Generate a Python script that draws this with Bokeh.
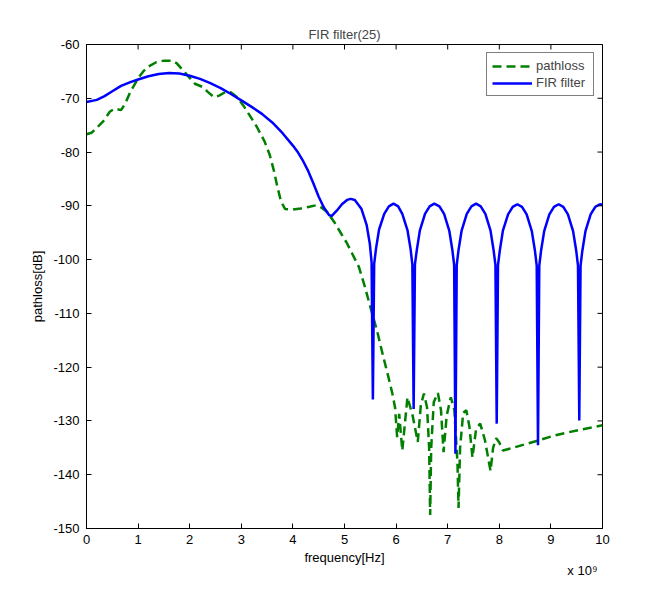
from bokeh.plotting import figure
from bokeh.models import FixedTicker, Legend, LegendItem, Range1d, ColumnDataSource, Title
from bokeh.embed import file_html
from bokeh.resources import INLINE

# ---------------- data (frequency in units of 1e9 Hz, values in dB) ----------------
path_freq = [0.0, 0.1, 0.2, 0.35, 0.45, 0.55, 0.67, 0.75, 0.85, 1.0, 1.1, 1.2, 1.35, 1.5, 1.65,
             1.75, 1.85, 2.0, 2.1, 2.25, 2.35, 2.47, 2.57, 2.7, 2.8, 2.92, 3.05, 3.15, 3.3, 3.45,
             3.55, 3.63, 3.7, 3.77, 3.85, 4.0, 4.15, 4.3, 4.45, 4.55, 4.67, 4.8, 4.95, 5.05, 5.15,
             5.28, 5.4, 5.5, 5.63, 5.75, 5.85, 5.93, 5.98, 6.02, 6.06, 6.12, 6.22, 6.32, 6.42,
             6.48, 6.54, 6.60, 6.64, 6.66, 6.68, 6.73, 6.81, 6.87, 6.92, 6.98, 7.06, 7.13, 7.19,
             7.21, 7.24, 7.30, 7.36, 7.42, 7.48, 7.55, 7.63, 7.72, 7.83, 7.88, 7.94, 8.0, 8.07,
             8.3, 8.55, 8.8, 9.07, 9.3, 9.58, 9.8, 10.0]
path_db = [-76.7, -76.4, -75.5, -74.0, -72.5, -71.9, -72.2, -71.0, -68.8, -66.3, -65.0, -64.1,
           -63.3, -63.0, -63.0, -63.5, -64.6, -66.2, -67.3, -67.9, -68.8, -69.8, -69.5, -68.8,
           -68.9, -69.8, -71.5, -73.0, -75.3, -78.0, -80.5, -83.4, -86.5, -89.2, -90.6, -90.7,
           -90.5, -90.2, -89.9, -90.3, -91.2, -93.0, -95.4, -97.0, -98.9, -101.4, -105.2,
           -108.8, -113.2, -118.0, -121.8, -125.0, -127.5, -133.0, -128.7, -135.5, -125.6,
           -129.0, -133.9, -127.0, -124.9, -127.5, -135.0, -147.5, -135.0, -126.5, -124.8,
           -128.0, -135.8, -129.0, -125.6, -128.0, -138.0, -146.2, -135.0, -128.5, -128.0,
           -131.0, -136.8, -131.5, -130.5, -133.5, -139.3, -135.0, -133.2, -134.0, -135.5,
           -134.9, -134.2, -133.5, -132.7, -132.2, -131.6, -131.2, -130.8]

fir_freq = [0.0, 0.2, 0.35, 0.5, 0.67, 0.85, 1.0, 1.2, 1.4, 1.6, 1.8, 2.0, 2.2, 2.4, 2.6, 2.8,
            3.0, 3.2, 3.4, 3.6, 3.8, 4.0, 4.1, 4.2, 4.3, 4.4, 4.5, 4.6, 4.7, 4.75, 4.85, 4.95,
            5.05, 5.12, 5.2, 5.33, 5.43, 5.49, 5.525, 5.55, 5.575, 5.61, 5.67, 5.77, 5.86, 5.95,
            6.04, 6.12, 6.22, 6.28, 6.315, 6.34, 6.365, 6.40, 6.46, 6.56, 6.65, 6.74, 6.84, 6.93,
            7.03, 7.09, 7.125, 7.15, 7.175, 7.21, 7.27, 7.37, 7.46, 7.55, 7.64, 7.73, 7.83, 7.89,
            7.925, 7.95, 7.975, 8.01, 8.07, 8.17, 8.26, 8.35, 8.44, 8.53, 8.63, 8.69, 8.725, 8.75,
            8.775, 8.81, 8.87, 8.97, 9.06, 9.15, 9.24, 9.33, 9.43, 9.49, 9.525, 9.55, 9.575, 9.61,
            9.67, 9.77, 9.86, 9.95, 10.0]
fir_db = [-70.7, -70.3, -69.6, -68.7, -67.7, -67.0, -66.5, -65.9, -65.5, -65.3, -65.4, -65.8,
          -66.4, -67.2, -68.1, -69.2, -70.4, -71.6, -72.9, -74.5, -76.5, -78.8, -80.1, -81.7,
          -83.6, -85.9, -88.3, -90.3, -91.7, -91.9, -90.9, -89.7, -88.9, -88.7, -88.9, -90.6,
          -93.6, -97.0, -100.5, -126.0, -100.8, -98.0, -94.4, -91.5, -90.1, -89.6, -90.1, -91.5,
          -94.5, -98.0, -100.9, -127.8, -100.9, -98.3, -94.6, -91.5, -90.1, -89.6, -90.1, -91.5,
          -94.6, -98.2, -101.0, -136.1, -101.0, -98.2, -94.6, -91.5, -90.1, -89.6, -90.1, -91.5,
          -94.6, -98.3, -101.0, -130.5, -101.0, -98.3, -94.6, -91.6, -90.2, -89.7, -90.2, -91.6,
          -94.7, -98.3, -101.1, -134.5, -101.1, -98.3, -94.7, -91.6, -90.2, -89.7, -90.2, -91.6,
          -94.7, -98.3, -101.1, -129.9, -101.1, -98.3, -94.7, -91.6, -90.2, -89.7, -89.8]

x_ticks = [0, 1, 2, 3, 4, 5, 6, 7, 8, 9, 10]
y_ticks = [-150, -140, -130, -120, -110, -100, -90, -80, -70, -60]
y_tick_labels = ["-150", "-140", "-130", "-120", "-110", "-100", "-90", "-80", "-70", "-60"]

FONT = "Liberation Sans"
X0, X1, Y0, Y1 = 0, 10, -150, -60
FW, FH = 516, 484

p = figure(frame_width=FW, frame_height=FH, x_range=Range1d(X0, X1), y_range=Range1d(Y0, Y1),
           output_backend="svg", toolbar_location=None,
           min_border_left=86, min_border_right=50, min_border_top=44, min_border_bottom=57,
           title="FIR filter(25)")
p.background_fill_color = "white"
p.border_fill_color = "white"
p.grid.visible = False
p.outline_line_color = "black"
p.outline_line_width = 1

p.title.text_font = FONT
p.title.text_font_size = "13px"
p.title.text_font_style = "normal"
p.title.align = "center"
p.title.standoff = 6

src_path = ColumnDataSource(dict(x=path_freq, y=path_db))
src_fir = ColumnDataSource(dict(x=fir_freq, y=fir_db))
r_path = p.line("x", "y", source=src_path, line_color="#007f00", line_width=2.5, line_dash="9 5")
r_fir = p.line("x", "y", source=src_fir, line_color="#0000ff", line_width=2.5)

def style_axis(ax, ticks):
    ax.ticker = FixedTicker(ticks=ticks)
    ax.major_tick_in = 5
    ax.major_tick_out = 0
    ax.minor_tick_line_color = None
    ax.axis_line_color = "black"
    ax.major_tick_line_color = "black"
    ax.major_label_text_font = FONT
    ax.major_label_text_font_size = "13px"
    ax.major_label_text_color = "black"
    ax.axis_label_text_font = FONT
    ax.axis_label_text_font_size = "13px"
    ax.axis_label_text_font_style = "normal"
    ax.axis_label_text_color = "black"

xa = p.xaxis[0]
ya = p.yaxis[0]
style_axis(xa, x_ticks)
style_axis(ya, y_ticks)
xa.axis_label = "frequency[Hz]"
ya.axis_label = "pathloss[dB]"
xa.major_label_standoff = 6
ya.major_label_standoff = 7
xa.axis_label_standoff = 3
ya.axis_label_standoff = 5
ya.major_label_overrides = {t: s for t, s in zip(y_ticks, y_tick_labels)}

# inward ticks on the top and right edges of the box (5 px long)
tick_dx = 5 * (X1 - X0) / FW
tick_dy = 5 * (Y1 - Y0) / FH
p.segment(x0=x_ticks, y0=[Y1] * len(x_ticks), x1=x_ticks, y1=[Y1 - tick_dy] * len(x_ticks),
          line_color="black", line_width=1)
p.segment(x0=[X1] * len(y_ticks), y0=y_ticks, x1=[X1 - tick_dx] * len(y_ticks), y1=y_ticks,
          line_color="black", line_width=1)

legend = Legend(items=[LegendItem(label="pathloss", renderers=[r_path]),
                       LegendItem(label="FIR filter", renderers=[r_fir])],
                location="top_right")
legend.border_line_color = "black"
legend.border_line_width = 1
legend.background_fill_color = "white"
legend.background_fill_alpha = 1.0
legend.label_text_font = FONT
legend.label_text_font_size = "13px"
legend.glyph_width = 40
legend.glyph_height = 14
legend.label_height = 14
legend.label_width = 52
legend.label_standoff = 4
legend.padding = 5
legend.spacing = 2
legend.margin = 8
p.add_layout(legend, "center")

exp_title = Title(text="x 10\u2079", align="right", text_font=FONT, text_font_size="13px",
                  text_font_style="normal", text_color="black", standoff=-21, offset=5)
p.add_layout(exp_title, "below")

open("out.html", "w").write(file_html(p, INLINE))
